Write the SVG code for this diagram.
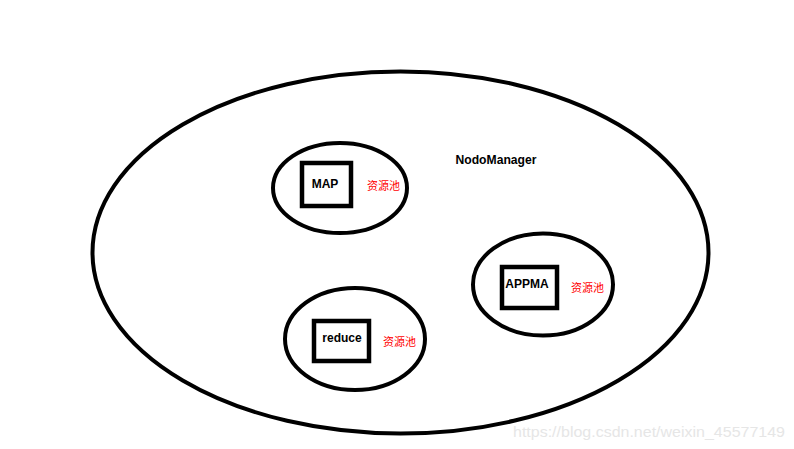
<svg xmlns="http://www.w3.org/2000/svg" width="794" height="449" viewBox="0 0 794 449">
<style>
.ell{fill:none;stroke:#000;stroke-width:4}
.box{fill:none;stroke:#000;stroke-width:4.5}
.lbl{font-family:"Liberation Sans","Noto Sans",sans-serif;font-weight:bold;font-size:12px;fill:#000;text-anchor:middle;dominant-baseline:central}
.res{font-family:"Noto Sans CJK SC","Liberation Sans",sans-serif;font-size:11px;fill:#ff0000;dominant-baseline:central}
.wm{font-family:"Liberation Sans",sans-serif;font-size:15px;fill:#e6e6e6}
</style>
<rect width="794" height="449" fill="#fff"/>
<g id="nodemanager">
<ellipse class="ell" cx="400.5" cy="252.5" rx="308" ry="181"/>
<text class="lbl" x="496" y="160" textLength="81" lengthAdjust="spacingAndGlyphs">NodoManager</text>
</g>
<g id="map">
<ellipse class="ell" cx="340" cy="188" rx="67" ry="45"/>
<rect class="box" x="302" y="163" width="49" height="43"/>
<text class="lbl" x="325" y="184">MAP</text>
<text class="res" x="367" y="185">资源池</text>
</g>
<g id="appma">
<ellipse class="ell" cx="543" cy="284.5" rx="70" ry="51"/>
<rect class="box" x="502" y="267" width="55" height="41"/>
<text class="lbl" x="527" y="284">APPMA</text>
<text class="res" x="571" y="287">资源池</text>
</g>
<g id="reduce">
<ellipse class="ell" cx="355" cy="339" rx="70" ry="51"/>
<rect class="box" x="314" y="321" width="55" height="40"/>
<text class="lbl" x="342" y="338">reduce</text>
<text class="res" x="383" y="341">资源池</text>
</g>
<g id="connectors"></g>
<text class="wm" x="513" y="437" textLength="272" lengthAdjust="spacingAndGlyphs">https://blog.csdn.net/weixin_45577149</text>
</svg>
